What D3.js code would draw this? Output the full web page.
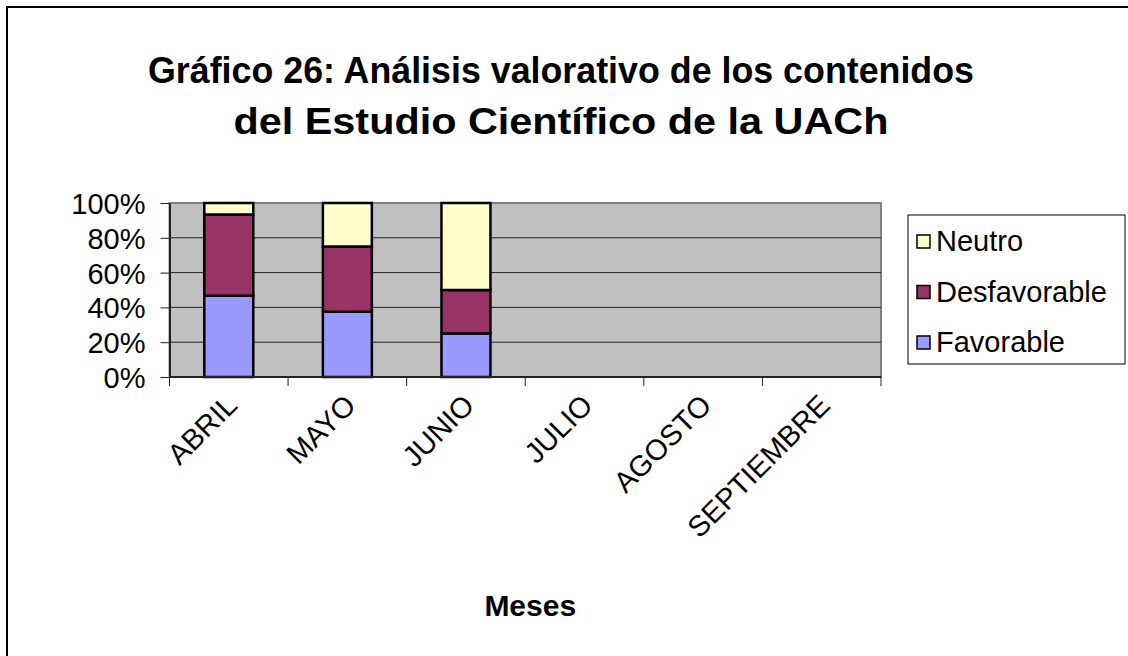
<!DOCTYPE html>
<html>
<head>
  <meta charset="utf-8">
  <title>Gráfico 26</title>
  <style>
  body { margin: 0; background: #fff; }
  text { font-family: "Liberation Sans", Arial, sans-serif; }
  </style>
</head>
<body>
  <script type="text/javascript" src="https://d3js.org/d3.v7.min.js" charset="utf-8"></script>
  <script type="text/javascript">
  'use strict'

  const meses = ['ABRIL', 'MAYO', 'JUNIO', 'JULIO', 'AGOSTO', 'SEPTIEMBRE']
  const favorable = [46.7, 37.5, 25, 0, 0, 0]
  const desfavorable = [46.7, 37.5, 25, 0, 0, 0]
  const neutro = [6.6, 25, 50, 0, 0, 0]
  const seriesNames = ['Favorable', 'Desfavorable', 'Neutro']
  const seriesColors = ['#9999FF', '#993366', '#FFFFCC']
  const yTicks = [0, 0.2, 0.4, 0.6, 0.8, 1]
  const titleLines = ['Gráfico 26: Análisis valorativo de los contenidos', 'del Estudio Científico de la UACh']

  const w = 1128
  const h = 656
  const plot = { left: 169.5, right: 881, top: 203, bottom: 377 }
  const fs = '29px'

  const svg = d3.select('body')
    .append('svg')
    .attr('width', w)
    .attr('height', h)

  // outer chart frame (right and bottom edges fall outside the picture)
  svg.append('rect')
    .attr('x', 7).attr('y', 7)
    .attr('width', w + 20).attr('height', h + 20)
    .attr('fill', 'white')
    .attr('stroke', '#000')
    .attr('stroke-width', 2)

  // title, stretched to the widths seen in the reference
  const titleLens = [826, 655]
  svg.selectAll('text.title')
    .data(titleLines)
    .enter()
    .append('text')
    .attr('class', 'title')
    .attr('x', 561 - 0)
    .attr('y', (d, i) => 83 + i * 51)
    .attr('text-anchor', 'middle')
    .attr('font-size', '37px')
    .attr('font-weight', 'bold')
    .attr('textLength', (d, i) => titleLens[i])
    .attr('lengthAdjust', 'spacingAndGlyphs')
    .text(d => d)

  const rows = meses.map((m, i) => {
    const tot = favorable[i] + desfavorable[i] + neutro[i]
    return {
      mes: m,
      Favorable: tot ? favorable[i] / tot : 0,
      Desfavorable: tot ? desfavorable[i] / tot : 0,
      Neutro: tot ? neutro[i] / tot : 0
    }
  })
  const stacked = d3.stack().keys(seriesNames)(rows)

  const x = d3.scaleBand()
    .domain(meses)
    .range([plot.left, plot.right])
    .paddingInner(0.587)
    .paddingOuter(0.2935)

  const y = d3.scaleLinear()
    .domain([0, 1])
    .range([plot.bottom, plot.top])

  // plot background
  svg.append('rect')
    .attr('x', plot.left).attr('y', plot.top)
    .attr('width', plot.right - plot.left)
    .attr('height', plot.bottom - plot.top)
    .attr('fill', '#C0C0C0')
    .attr('stroke', '#808080')
    .attr('stroke-width', 2)

  // gridlines
  svg.selectAll('line.grid')
    .data(yTicks.slice(1, -1))
    .enter()
    .append('line')
    .attr('class', 'grid')
    .attr('x1', plot.left).attr('x2', plot.right)
    .attr('y1', d => y(d)).attr('y2', d => y(d))
    .attr('stroke', '#222')
    .attr('stroke-width', 1)

  // bars
  svg.selectAll('g.serie')
    .data(stacked)
    .enter()
    .append('g')
    .attr('class', 'serie')
    .attr('fill', (d, i) => seriesColors[i])
    .selectAll('rect')
    .data(d => d.filter(p => p[1] - p[0] > 0))
    .enter()
    .append('rect')
    .attr('x', d => x(d.data.mes))
    .attr('y', d => y(d[1]))
    .attr('width', x.bandwidth())
    .attr('height', d => y(d[0]) - y(d[1]))
    .attr('stroke', '#000')
    .attr('stroke-width', 2.5)

  // y axis
  const yAxis = svg.append('g')
    .attr('transform', `translate(${plot.left},0)`)
    .call(d3.axisLeft(y).tickValues(yTicks).tickFormat(d3.format('.0%')).tickSize(9).tickSizeOuter(0).tickPadding(15))
  yAxis.select('.domain').attr('stroke', '#222').attr('stroke-width', 2)
  yAxis.selectAll('.tick line').attr('stroke', '#222')
  yAxis.selectAll('text')
    .attr('font-size', fs)
    .attr('font-family', '"Liberation Sans", Arial, sans-serif')
    .attr('fill', '#000')
    .attr('dy', '0.36em')

  // x axis line and ticks at category boundaries
  svg.append('line')
    .attr('x1', plot.left).attr('x2', plot.right)
    .attr('y1', plot.bottom).attr('y2', plot.bottom)
    .attr('stroke', '#222').attr('stroke-width', 2)
  const bounds = meses.map(m => x(m) - x.step() * x.paddingOuter()).concat([plot.right])
  svg.selectAll('line.xtick')
    .data(bounds)
    .enter()
    .append('line')
    .attr('class', 'xtick')
    .attr('x1', d => d).attr('x2', d => d)
    .attr('y1', plot.bottom).attr('y2', plot.bottom + 9)
    .attr('stroke', '#222')

  svg.selectAll('text.xlab')
    .data(meses)
    .enter()
    .append('text')
    .attr('class', 'xlab')
    .attr('text-anchor', 'end')
    .attr('font-size', fs)
    .attr('transform', d => `translate(${x(d) + x.bandwidth() / 2 + 10},${plot.bottom + 30}) rotate(-45)`)
    .text(d => d)

  svg.append('text')
    .attr('x', (plot.left + plot.right) / 2 + 5)
    .attr('y', 616)
    .attr('text-anchor', 'middle')
    .attr('font-size', '30px')
    .attr('font-weight', 'bold')
    .text('Meses')

  // legend
  const legend = svg.append('g')
  legend.append('rect')
    .attr('x', 908).attr('y', 215)
    .attr('width', 217).attr('height', 149)
    .attr('fill', 'white')
    .attr('stroke', '#000')
    .attr('stroke-width', 1)
  const order = seriesNames.slice().reverse()
  const items = legend.selectAll('g.item')
    .data(order)
    .enter()
    .append('g')
    .attr('class', 'item')
    .attr('transform', (d, i) => `translate(917,${241 + i * 50.5})`)
  items.append('rect')
    .attr('x', 0).attr('y', -6)
    .attr('width', 13).attr('height', 13)
    .attr('fill', d => seriesColors[seriesNames.indexOf(d)])
    .attr('stroke', '#000')
    .attr('stroke-width', 1.5)
  items.append('text')
    .attr('x', 19).attr('y', 10)
    .attr('font-size', fs)
    .text(d => d)
  </script>
</body>
</html>
